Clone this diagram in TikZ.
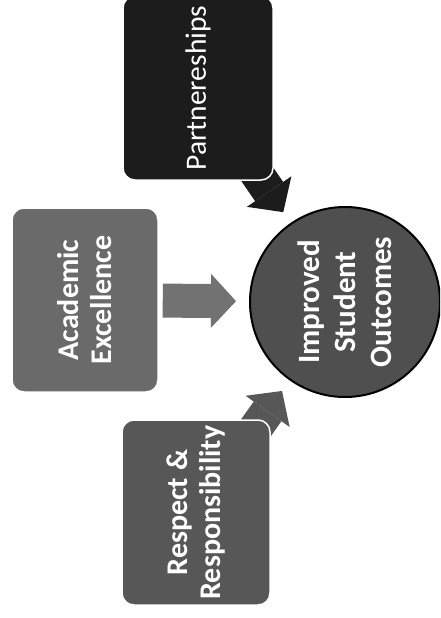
\documentclass[tikz,border=0pt]{standalone}
\usepackage{fontspec}
\setmainfont{Carlito}
\usepackage{tikz}
\usetikzlibrary{arrows.meta, backgrounds}

\definecolor{partdark}{HTML}{1C1C1C}
\definecolor{acadgray}{HTML}{6A6A6A}
\definecolor{respgray}{HTML}{575757}
\definecolor{goalgray}{HTML}{4F4F4F}
\definecolor{acadarrow}{HTML}{727272}

\tikzset{
  box/.style={draw=white, line width=1.5pt, rounded corners=12pt, rotate=90,
    inner sep=0pt, align=center, text=white,
    font=\fontsize{30}{33}\selectfont\bfseries},
  goal/.style={circle, draw=black, line width=2pt, fill=goalgray, minimum size=190pt,
    inner sep=0pt, rotate=90, align=center, text=white,
    font=\fontsize{31}{36}\selectfont\bfseries},
  blockarrow/.style={line width=34pt,
    -{Triangle[width=54pt, length=25pt, line width=0pt]}, shorten >=13pt}
}

\begin{document}
\begin{tikzpicture}[x=1pt, y=1pt]
  \useasboundingbox (0,0) rectangle (440,-618);
  \clip (0,0) rectangle (440,-618);
  \node[box, fill=partdark, minimum width=184pt, minimum height=150pt,
    font=\fontsize{29.5}{33}\selectfont] (partner) at (198,-88) {Partnereships};
  \node[box, fill=acadgray, minimum width=184pt, minimum height=146pt] (acad) at (85,-300) {Academic\\Excellence};
  \node[box, fill=respgray, minimum width=185pt, minimum height=148pt] (respect) at (196,-512.5) {Respect \&\\Responsibility};
  \node[goal] (outcome) at (345,-302) {Improved\\Student\\Outcomes};
  % arrows go behind the boxes
  \begin{scope}[on background layer]
    \draw[blockarrow, partdark] (partner.center) -- (outcome);
    \draw[blockarrow, respgray] (respect.center) -- (outcome);
    \draw[blockarrow, acadarrow, shorten <=4pt] (acad) -- (outcome);
  \end{scope}
\end{tikzpicture}
\end{document}
